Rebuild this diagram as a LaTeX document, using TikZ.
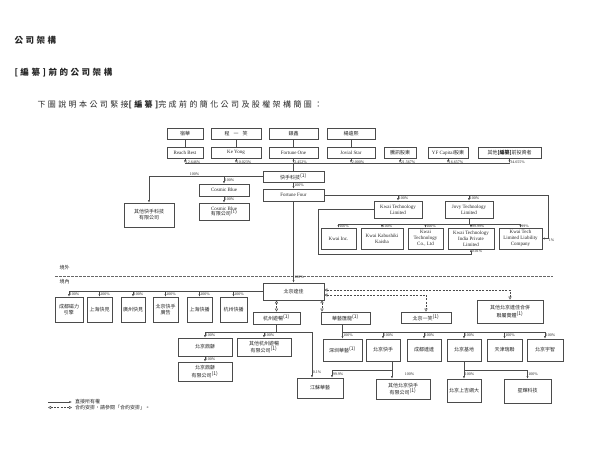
\documentclass[tikz,border=0pt]{standalone}
\usepackage{fontspec}
\setmainfont{Liberation Serif}
\newfontfamily\cjk{Noto Sans CJK TC}
\newfontfamily\cjkhead{Noto Sans CJK TC}[LetterSpace=30]
\usetikzlibrary{arrows.meta, positioning}
\definecolor{boxgray}{RGB}{75,75,75}

\begin{document}
\begin{tikzpicture}[x=1pt, y=-1pt,
  every node/.style={font=\fontsize{5}{5.8}\selectfont, text=black!85},
  org/.style={draw=boxgray, line width=0.6pt, inner sep=0.5pt, align=center},
  zh/.style={font=\cjk\fontsize{5}{5.8}\selectfont},
  pct/.style={font=\fontsize{4}{4.5}\selectfont, anchor=west, inner sep=0.6pt},
  link/.style={draw=boxgray, line width=0.45pt},
  own/.style={draw=boxgray, line width=0.45pt, -{Latex[length=2.6pt,width=2pt]}},
  contract/.style={draw=boxgray, line width=0.45pt, dash pattern=on 2pt off 1.3pt,
    {Triangle[open,length=3pt,width=3pt]}-{Triangle[open,length=3pt,width=3pt]}},
  border/.style={draw=black!60, line width=0.4pt, dash pattern=on 2.5pt off 1.5pt}]

\useasboundingbox (0,0) rectangle (600,455);

% headings
\node[anchor=west, font=\cjkhead\bfseries\fontsize{8.5}{10}\selectfont] (title) at (11,40) {公司架構};
\node[anchor=west, font=\cjkhead\bfseries\fontsize{8.5}{10}\selectfont] (subtitle) at (11,73) {[編纂]前的公司架構};
\node[anchor=west, font=\cjkhead\fontsize{8}{9}\selectfont] (intro) at (34,105) {下圖說明本公司緊接{\bfseries[編纂]}完成前的簡化公司及股權架構簡圖：};

% shareholders
\node[org, zh, minimum width=36, minimum height=11] (suhua) at (185,133.5) {宿華};
\node[org, zh, minimum width=50, minimum height=11] (cheng) at (236,133.5) {程\hspace{4pt}一\hspace{4pt}笑};
\node[org, zh, minimum width=49, minimum height=11] (yinxin) at (293.5,133.5) {銀鑫};
\node[org, zh, minimum width=48, minimum height=11] (yang) at (351,133.5) {楊遠熙};

\node[org, minimum width=36, minimum height=11] (reachbest) at (185,152.5) {Reach Best};
\node[org, minimum width=50, minimum height=11] (keyong) at (236,152.5) {Ke Yong};
\node[org, minimum width=49, minimum height=11] (fortuneone) at (293.5,152.5) {Fortune One};
\node[org, minimum width=48, minimum height=11] (jovial) at (351,152.5) {Jovial Star};
\node[org, zh, minimum width=32, minimum height=11] (tencent) at (400,152.5) {騰訊股東};
\node[org, minimum width=40, minimum height=11] (yfcap) at (448,152.5) {YF Capital{\cjk 股東}};
\node[org, zh, minimum width=63, minimum height=11] (preipo) at (509.5,152.5) {其他{\bfseries[編纂]}前投資者};

\foreach \a/\b in {suhua/reachbest, cheng/keyong, yinxin/fortuneone, yang/jovial}
  \draw[link] (\a) -- (\b);

\coordinate (shbar) at (0,163);
\draw[link] (reachbest.south |- shbar) -- (preipo.south |- shbar);
\foreach \n/\p in {reachbest/12.646, keyong/10.023, fortuneone/2.452, jovial/2.000,
                   tencent/21.567, yfcap/16.657, preipo/34.655}
  \draw[own] (\n.south) -- (\n.south |- shbar) node[pct, pos=0.8] (p-\n) {\p\%};

% offshore group
\node[org, zh, minimum width=61, minimum height=11] (kuaishou) at (293.5,176.5) {快手科技\textsuperscript{(1)}};
\draw[link] (fortuneone.south |- shbar) -- (kuaishou.north);

\node[org, zh, minimum width=50, minimum height=24] (otherks) at (149,215) {其他快手科技\\有限公司};
\draw[own] (kuaishou.west) -| (otherks.north) node[pct, pos=0.3, anchor=south] (p-otherks) {100\%};

\node[org, minimum width=50, minimum height=12] (cosmic) at (224,190) {Cosmic Blue};
\node[org, minimum width=50, minimum height=17] (cosmicltd) at (224,211.5) {Cosmic Blue\\{\cjk 有限公司}\textsuperscript{(1)}};
\draw[own] (kuaishou.west -| cosmic.north) -- (cosmic.north) node[pct, midway] (p-cosmic) {100\%};
\draw[own] (cosmic.south) -- (cosmicltd.north) node[pct, midway] (p-cosmicltd) {100\%};

\node[org, minimum width=61, minimum height=12] (fortunefour) at (293.5,195) {Fortune Four};
\draw[own] (kuaishou.south) -- (fortunefour.north) node[pct, midway] (p-fortunefour) {100\%};

\node[org, minimum width=48, minimum height=17] (kwaitech) at (398,209.5) {Kwai Technology\\Limited};
\node[org, minimum width=48, minimum height=17] (jovy) at (469,209.5) {Jovy Technology\\Limited};

\node[org, minimum width=35, minimum height=21] (kwaiinc) at (338.5,238.5) {Kwai Inc.};
\node[org, minimum width=42, minimum height=21] (kwaikk) at (382,238.5) {Kwai Kabushiki\\Kaisha};
\node[org, minimum width=35, minimum height=21] (kwaicn) at (425.5,238.5) {Kwai\\Technology\\Co., Ltd};
\node[org, minimum width=46, minimum height=21] (kwaiindia) at (471,238.5) {Kwai Technology\\India Private\\Limited};
\node[org, minimum width=43, minimum height=21] (llc) at (520.5,238.5) {Kwai Tech\\Limited Liability\\Company};

\coordinate (frameR) at (548,195);
\draw[link] (fortunefour.east) -- (frameR);
\draw[own] (frameR) |- (llc.east) node[pct, pos=0.5, anchor=north west] (p-llc1) {1\%};
\draw[own] (fortunefour.east -| kwaitech.north) -- (kwaitech.north) node[pct, midway] (p-kwaitech) {100\%};
\draw[own] (fortunefour.east -| jovy.north) -- (jovy.north) node[pct, midway] (p-jovy) {100\%};

\coordinate (ovbar) at (0,224);
\draw[link] (jovy.south) -- (jovy.south |- ovbar);
\draw[link] (kwaiinc.north |- ovbar) -- (llc.north |- ovbar);
\foreach \n/\p in {kwaiinc/100, kwaikk/100, kwaicn/100, kwaiindia/99.99, llc/99}
  \draw[own] (\n.north |- ovbar) -- (\n.north) node[pct, midway] (p-\n) {\p\%};

\coordinate (ovL) at (318,254);
\draw[own] (kwaitech.west) -| (ovL) -| (kwaiindia.south) node[pct, pos=0.85] (p-india2) {0.01\%};

% offshore / onshore divide
\coordinate (bdL) at (55,276);
\coordinate (bdR) at (553,276);
\draw[border] (bdL) -- (bdR);
\node[zh, anchor=west] (offshore) at (56,268) {境外};
\node[zh, anchor=west] (onshore) at (56,282) {境內};

% onshore group
\node[org, zh, minimum width=61, minimum height=17] (dajia) at (293.5,291.5) {北京達佳};
\draw[own] (fortunefour.south) -- (dajia.north) node[pct, pos=0.93] (p-dajia) {100\%};

\node[org, zh, minimum width=28, minimum height=25] (chengdu) at (69,309.5) {成都磁力\\引擎};
\node[org, zh, minimum width=25, minimum height=25] (shkj) at (99.5,309.5) {上海快見};
\node[org, zh, minimum width=24, minimum height=25] (gzkj) at (133,309.5) {廣州快見};
\node[org, zh, minimum width=25, minimum height=25] (bjad) at (165.5,309.5) {北京快手\\廣告};
\node[org, zh, minimum width=25, minimum height=25] (shkb) at (199.5,309.5) {上海快播};
\node[org, zh, minimum width=27, minimum height=25] (hzkb) at (233.5,309.5) {杭州快播};

\draw[link] (dajia.west) -- (dajia.west -| chengdu.north);
\foreach \n in {chengdu, shkj, gzkj, bjad, shkb, hzkb}
  \draw[own] (dajia.west -| \n.north) -- (\n.north) node[pct, midway] (p-\n) {100\%};

\node[org, zh, minimum width=47, minimum height=12] (hzyc) at (276.5,318) {杭州遊暢\textsuperscript{(1)}};
\node[org, zh, minimum width=49, minimum height=12] (hyhl) at (345.5,318) {華藝匯龍\textsuperscript{(1)}};
\node[org, zh, minimum width=50, minimum height=11] (yixiao) at (426,317.5) {北京一笑\textsuperscript{(1)}};
\node[org, zh, minimum width=66, minimum height=23] (otherdj) at (510,311.5) {其他北京達佳合併\\聯屬實體\textsuperscript{(1)}};

\coordinate (hyin) at (322,300);
\draw[contract] (dajia.south -| hzyc.north) -- (hzyc.north);
\draw[contract] (hyin) -- (hyin |- hyhl.north);
\draw[contract] ([yshift=1.5pt]dajia.east) -| (otherdj.north);
\draw[contract] ([yshift=-3.5pt]dajia.east) -| (yixiao.north);

% 杭州遊暢 subsidiaries
\node[org, zh, minimum width=54, minimum height=18] (dinghe) at (205,347) {北京鼎龢};
\node[org, zh, minimum width=54, minimum height=19] (dinghe2) at (205,371.5) {北京鼎龢\\有限公司\textsuperscript{(1)}};
\node[org, zh, minimum width=54, minimum height=18] (otherhz) at (264,347) {其他杭州遊暢\\有限公司\textsuperscript{(1)}};
\node[org, zh, minimum width=46, minimum height=20] (jiangsu) at (320,388) {江蘇華藝};

\coordinate (hzbar) at (0,332);
\coordinate (jsL) at (312,332);
\draw[link] (hzyc.south) -- (hzyc.south |- hzbar);
\draw[link] (dinghe.north |- hzbar) -- (jsL);
\draw[own] (dinghe.north |- hzbar) -- (dinghe.north) node[pct, midway] (p-dinghe) {100\%};
\draw[own] (otherhz.north |- hzbar) -- (otherhz.north) node[pct, midway] (p-otherhz) {100\%};
\draw[own] (dinghe.south) -- (dinghe2.north) node[pct, midway] (p-dinghe2) {100\%};
\draw[own] (jsL) -- (jsL |- jiangsu.north) node[pct, pos=0.88] (p-jiangsu1) {0.1\%};

% 華藝匯龍 subsidiaries
\node[org, zh, minimum width=39, minimum height=22] (shenzhen) at (342.5,350) {深圳華藝\textsuperscript{(1)}};
\node[org, zh, minimum width=34, minimum height=22] (bjks) at (383,350) {北京快手};
\node[org, zh, minimum width=34, minimum height=22] (cddd) at (424,350) {成都達達};
\node[org, zh, minimum width=34, minimum height=22] (bjjd) at (464,350) {北京基地};
\node[org, zh, minimum width=35, minimum height=22] (tjrl) at (504.5,350) {天津瑞聯};
\node[org, zh, minimum width=36, minimum height=22] (bjyz) at (545,350) {北京宇智};

\draw[link] (shenzhen.north |- hyhl.south) -- (shenzhen.north |- hzbar);
\draw[link] (shenzhen.north |- hzbar) -- (bjyz.north |- hzbar);
\foreach \n in {shenzhen, bjks, cddd, bjjd, tjrl, bjyz}
  \draw[own] (\n.north |- hzbar) -- (\n.north) node[pct, midway] (p-\n) {100\%};

\node[org, zh, minimum width=54, minimum height=20] (otherbjks) at (403,389) {其他北京快手\\有限公司\textsuperscript{(1)}};
\node[org, zh, minimum width=34, minimum height=23] (bjsj) at (464,390.5) {北京上吉網大};
\node[org, zh, minimum width=47, minimum height=24] (xhkj) at (527.5,391) {星輝科技};

\coordinate (ksdown) at (392,370);
\coordinate (jsR) at (332,370);
\draw[link] (bjks.south -| ksdown) -- (ksdown);
\draw[own] (ksdown) -- (ksdown |- otherbjks.north) node[pct, midway, xshift=12pt] (p-otherbjks) {100\%};
\draw[own] (ksdown) -- (jsR) -- (jsR |- jiangsu.north) node[pct, midway] (p-jiangsu2) {99.9\%};

\coordinate (jdbar) at (0,370);
\draw[link] (bjjd.south) -- (bjjd.south |- jdbar) -- (xhkj.north |- jdbar);
\draw[own] (bjsj.north |- jdbar) -- (bjsj.north) node[pct, midway] (p-bjsj) {100\%};
\draw[own] (xhkj.north |- jdbar) -- (xhkj.north) node[pct, midway] (p-xhkj) {100\%};

% legend
\coordinate (lg1) at (48,402);
\coordinate (lg2) at (48,407.5);
\node[zh, anchor=west, inner sep=3pt] (lgown) at (72,402) {直接所有權};
\node[zh, anchor=west, inner sep=3pt] (lgcon) at (72,407.5) {合約安排，請參閱「合約安排」。};
\draw[own] (lg1) -- (lgown.west);
\draw[contract] (lg2) -- (lgcon.west);

\end{tikzpicture}
\end{document}
